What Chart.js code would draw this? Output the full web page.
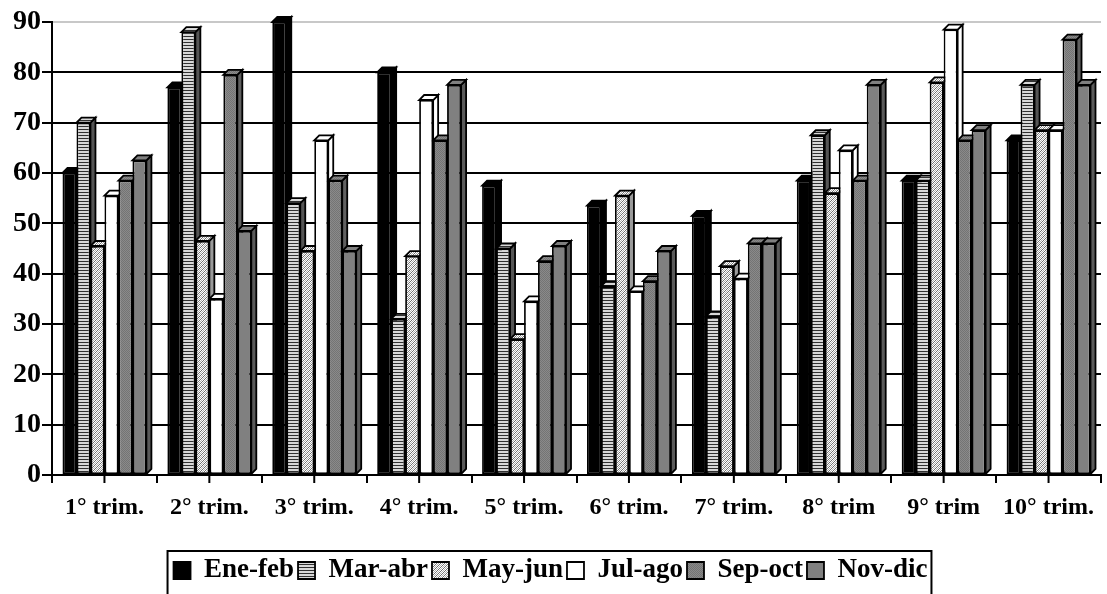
<!DOCTYPE html>
<html>
<head>
<meta charset="utf-8">
<script src="https://cdn.jsdelivr.net/npm/chart.js@4/dist/chart.umd.min.js"></script>
<style>
  html, body { margin: 0; padding: 0; background: #fff; }
  #wrap { width: 1107px; height: 594px; }
</style>
</head>
<body>
<div id="wrap"><canvas id="myChart" width="1107" height="594"></canvas></div>
<script>
var labels = ["1° trim.", "2° trim.", "3° trim.", "4° trim.", "5° trim.", "6° trim.", "7° trim.", "8° trim", "9° trim", "10° trim."];
var eneFeb = [60, 77, 90, 80, 57.5, 53.5, 51.5, 58.5, 58.5, 66.5];
var marAbr = [70, 88, 54, 31, 45, 37.5, 31.5, 67.5, 58.5, 77.5];
var mayJun = [45.5, 46.5, 44.5, 43.5, 27, 55.5, 41.5, 56, 78, 68.5];
var julAgo = [55.5, 35, 66.5, 74.5, 34.5, 36.5, 39, 64.5, 88.5, 68.5];
var sepOct = [58.5, 79.5, 58.5, 66.5, 42.5, 38.5, 46, 58.5, 66.5, 86.5];
var novDic = [62.5, 48.5, 44.5, 77.5, 45.5, 44.5, 46, 77.5, 68.5, 77.5];
var yTicks = [0, 10, 20, 30, 40, 50, 60, 70, 80, 90];

var FONT = "'Liberation Serif', 'Times New Roman', serif";

function makePattern(w, h, draw) {
  var c = document.createElement("canvas");
  c.width = w; c.height = h;
  var g = c.getContext("2d");
  draw(g);
  return document.getElementById("myChart").getContext("2d").createPattern(c, "repeat");
}

var stripes = makePattern(1, 3, function (g) {
  g.fillStyle = "#d8d8d8"; g.fillRect(0, 0, 1, 3);
  g.fillStyle = "#303030"; g.fillRect(0, 0, 1, 1);
});
var hatch = makePattern(4, 4, function (g) {
  g.fillStyle = "#ffffff"; g.fillRect(0, 0, 4, 4);
  g.fillStyle = "#707070";
  for (var i = 0; i < 4; i++) g.fillRect(3 - i, i, 1, 1);
  g.fillStyle = "#b0b0b0";
  for (var j = 0; j < 4; j++) g.fillRect((5 - j) % 4, j, 1, 1);
});
var dotted = makePattern(2, 2, function (g) {
  g.fillStyle = "#8a8a8a"; g.fillRect(0, 0, 2, 2);
  g.fillStyle = "#747474"; g.fillRect(0, 0, 1, 1); g.fillRect(1, 1, 1, 1);
});

var fills = ["#000000", stripes, hatch, "#ffffff", dotted, "#808080"];
var sideFills = ["#000000", "#555555", "#9a9a9a", "#ffffff", "#606060", "#5a5a5a"];
var names = ["Ene-feb", "Mar-abr", "May-jun", "Jul-ago", "Sep-oct", "Nov-dic"];
var series = [eneFeb, marAbr, mayJun, julAgo, sepOct, novDic];

// depth faces of the bars, drawn before the front faces
var depthPlugin = {
  id: "depth",
  beforeDatasetsDraw: function (chart) {
    var g = chart.ctx, dx = 5, dy = -5;
    g.save();
    g.lineWidth = 1.8;
    g.strokeStyle = "#000";
    chart.data.datasets.forEach(function (ds, di) {
      var meta = chart.getDatasetMeta(di);
      meta.data.forEach(function (bar) {
        var p = bar.getProps(["x", "y", "base", "width"], true);
        var l = p.x - p.width / 2, r = p.x + p.width / 2, t = p.y, b = p.base;
        g.fillStyle = sideFills[di];
        g.beginPath();
        g.moveTo(r, t); g.lineTo(r + dx, t + dy); g.lineTo(r + dx, b + dy); g.lineTo(r, b);
        g.closePath(); g.fill(); g.stroke();
        g.fillStyle = fills[di];
        g.beginPath();
        g.moveTo(l, t); g.lineTo(l + dx, t + dy); g.lineTo(r + dx, t + dy); g.lineTo(r, t);
        g.closePath(); g.fill(); g.stroke();
      });
    });
    g.restore();
  },
  afterDraw: function (chart) {
    var g = chart.ctx;
    var xs = chart.scales.x, area = chart.chartArea;
    g.save();
    g.strokeStyle = "#000";
    g.lineWidth = 2;
    // ticks at category centres
    for (var i = 0; i < labels.length; i++) {
      var px = xs.getPixelForValue(i);
      g.beginPath(); g.moveTo(px, area.bottom); g.lineTo(px, area.bottom + 8); g.stroke();
    }
    // legend frame
    var lg = chart.legend;
    if (lg && lg.legendHitBoxes.length) {
      var hb = lg.legendHitBoxes;
      var left = hb[0].left - 6, right = hb[hb.length - 1].left + hb[hb.length - 1].width + 4;
      var top = hb[0].top - 6, bottom = hb[0].top + hb[0].height + 12;
      g.lineWidth = 2;
      g.strokeRect(left, top, right - left, bottom - top);
    }
    g.restore();
  }
};

var ctx = document.getElementById("myChart");
var myChart = new Chart(ctx, {
  type: "bar",
  data: {
    labels: labels,
    datasets: series.map(function (vals, i) {
      return {
        label: names[i],
        data: vals,
        backgroundColor: fills[i],
        borderColor: "#000",
        borderWidth: 1.8,
        borderSkipped: false,
        categoryPercentage: 0.8,
        barPercentage: 1.0
      };
    })
  },
  options: {
    responsive: false,
    animation: false,
    devicePixelRatio: 1,
    layout: { padding: { top: 22, right: 6, left: 0, bottom: 0 } },
    plugins: {
      tooltip: { enabled: false },
      legend: {
        position: "bottom",
        labels: {
          font: { family: FONT, size: 27, weight: "bold" },
          color: "#000",
          boxWidth: 17,
          boxHeight: 17,
          padding: 4
        }
      }
    },
    scales: {
      x: {
        grid: { display: true, drawOnChartArea: false, offset: true, color: "#000", tickColor: "#000", lineWidth: 2, tickLength: 8 },
        border: { color: "#000", width: 2 },
        ticks: { font: { family: FONT, size: 24, weight: "bold" }, color: "#000", padding: 10, maxRotation: 0, autoSkip: false },
        afterFit: function (s) { s.height = 78; }
      },
      y: {
        min: 0,
        max: 90,
        afterBuildTicks: function (s) { s.ticks = yTicks.map(function (v) { return { value: v }; }); },
        grid: {
          color: function (c) { return c.tick && c.tick.value === 90 ? "#c8c8c8" : "#000"; },
          tickColor: "#000",
          lineWidth: 2,
          tickLength: 10
        },
        border: { color: "#000", width: 2 },
        ticks: { font: { family: FONT, size: 28, weight: "bold" }, color: "#000", padding: 1 },
        afterFit: function (s) { s.width = 52; }
      }
    }
  },
  plugins: [depthPlugin]
});
</script>
</body>
</html>
